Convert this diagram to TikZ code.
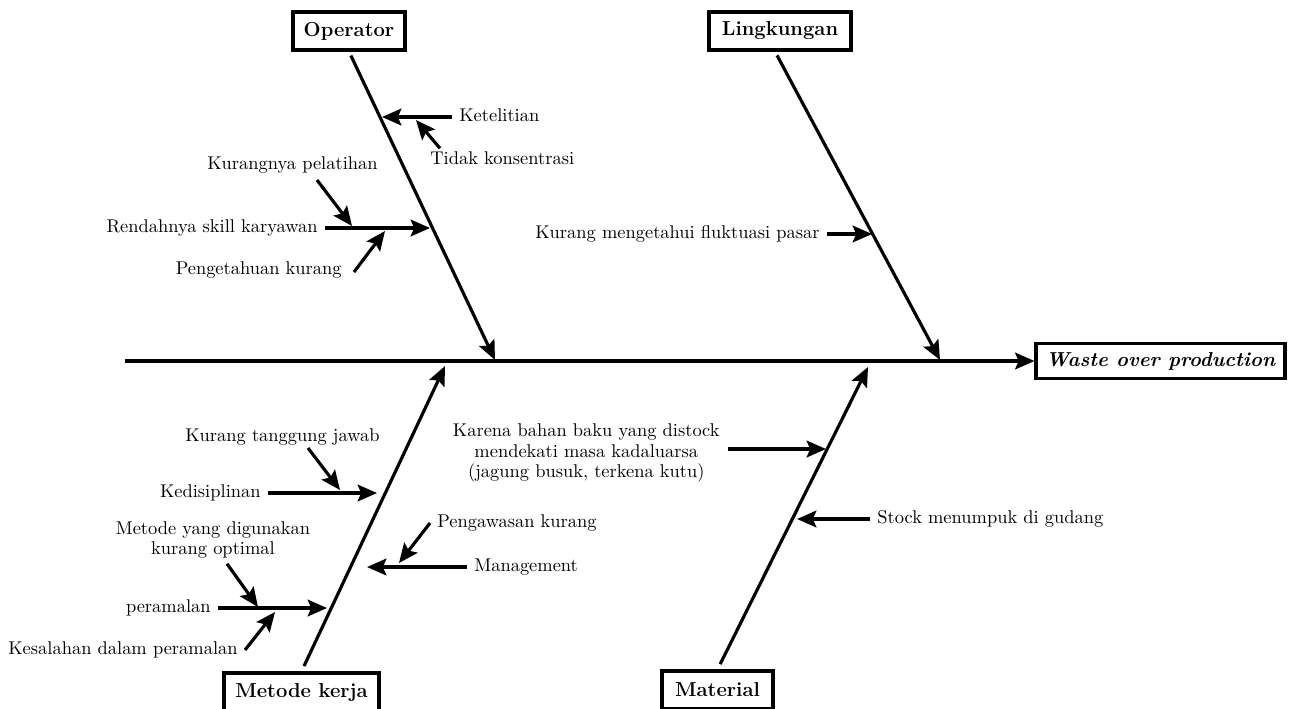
\documentclass[tikz,border=0pt]{standalone}
\usetikzlibrary{arrows.meta,calc,positioning}
\tikzset{
  cat/.style={draw,line width=1.8pt,font=\fontsize{11.5}{13}\selectfont\bfseries,inner sep=0pt,minimum height=0.76cm},
  bone/.style={line width=1.8pt,shorten <=2.5pt,-{Stealth[length=11pt,width=9.5pt,inset=2pt]}},
  sub/.style={line width=1.8pt,-{Stealth[length=11pt,width=9.5pt,inset=2pt]}},
  cause/.style={font=\fontsize{10.5}{11.5}\selectfont,inner xsep=4pt,inner ysep=0pt,text height=7.5pt,text depth=2pt},
  cause2/.style={font=\fontsize{10.5}{11.5}\selectfont,align=center,inner sep=0pt}
}
\begin{document}
\begin{tikzpicture}[x=0.02cm,y=-0.02cm]
  \useasboundingbox (0,0) rectangle (1290,708);
  % heads
  \node[cat,minimum width=2.24cm] (opbox) at (349,31) {Operator};
  \node[cat,minimum width=2.84cm] (lingbox) at (780,31) {Lingkungan};
  \node[cat,minimum width=3.1cm] (mkbox) at (301.5,692) {Metode kerja};
  \node[cat,minimum width=2.22cm] (matbox) at (717.5,690) {Material};
  \node[cat,minimum width=4.98cm,minimum height=0.7cm,font=\fontsize{11.5}{13}\selectfont\bfseries\itshape] (effect) at (1160.5,361) {Waste over production};
  % spine and bones
  \coordinate (tail) at (125,361);
  \coordinate (opend) at (495,360);
  \coordinate (lingend) at (940,360);
  \coordinate (mkend) at (445,366);
  \coordinate (matend) at (868,367);
  \draw[sub] (tail) -- (effect.west);
  \draw[bone] (opbox.south) -- (opend);
  \draw[bone] ($(lingbox.south)+(-5,0)$) -- (lingend);
  \draw[bone,shorten <=3.4pt] (mkbox.north) -- (mkend);
  \draw[bone,shorten <=3.4pt] (matbox.north) -- (matend);
  % operator
  \node[cause,anchor=west] (ketelitian) at (452,117) {Ketelitian};
  \node[cause,anchor=west] (tidak) at (423,160) {Tidak konsentrasi};
  \node[cause,anchor=east] (rendah) at (325,228) {Rendahnya skill karyawan};
  \node[cause,anchor=east] (pelatihan) at (385,165) {Kurangnya pelatihan};
  \node[cause,anchor=east] (pengetahuan) at (349,270) {Pengetahuan kurang};
  \coordinate (op1) at (382,117);
  \coordinate (op2) at (430,228);
  \coordinate (ket1) at (416,120);
  \coordinate (ren1) at (352,226);
  \coordinate (ren2) at (385,231);
  \draw[sub] (ketelitian.west) -- (op1);
  \draw[sub] ($(tidak.north west)+(17,-3)$) -- (ket1);
  \draw[sub] (rendah.east) -- (op2);
  \draw[sub] ($(pelatihan.east)+(-68,15)$) -- (ren1);
  \draw[sub] ($(pengetahuan.east)+(5,2)$) -- (ren2);
  % lingkungan
  \node[cause,anchor=east] (fluktuasi) at (827,234) {Kurang mengetahui fluktuasi pasar};
  \coordinate (ling1) at (872,234);
  \draw[sub] (fluktuasi.east) -- (ling1);
  % metode kerja
  \node[cause,anchor=east] (tanggung) at (387,437) {Kurang tanggung jawab};
  \node[cause,anchor=east] (disiplin) at (268,493) {Kedisiplinan};
  \node[cause2] (optimal) at (213,540) {Metode yang digunakan\\kurang optimal};
  \node[cause,anchor=east] (ramal) at (218,608) {peramalan};
  \node[cause,anchor=east] (kesalahan) at (245,650) {Kesalahan dalam peramalan};
  \node[cause,anchor=west] (management) at (467,567) {Management};
  \node[cause,anchor=west] (pengawasan) at (430,523) {Pengawasan kurang};
  \coordinate (mk1) at (377,493);
  \coordinate (mk2) at (327,608);
  \coordinate (mk3) at (367,567);
  \coordinate (dis1) at (340,490);
  \coordinate (ram1) at (258,607);
  \coordinate (ram2) at (275,612);
  \coordinate (man1) at (399,563);
  \draw[sub] (disiplin.east) -- (mk1);
  \draw[sub] ($(tanggung.east)+(-79,11)$) -- (dis1);
  \draw[sub] (ramal.east) -- (mk2);
  \draw[sub] ($(optimal.south)+(14,5)$) -- (ram1);
  \draw[sub] (kesalahan.east) -- (ram2);
  \draw[sub] (management.west) -- (mk3);
  \draw[sub] (pengawasan.west) -- (man1);
  % material
  \node[cause2,anchor=east] (karena) at (720,453) {Karena bahan baku yang distock\\mendekati masa kadaluarsa\\(jagung busuk, terkena kutu)};
  \node[cause,anchor=west] (stock) at (870,519) {Stock menumpuk di gudang};
  \coordinate (mat1) at (826,449);
  \coordinate (mat2) at (797,519);
  \draw[sub] ($(karena.east)+(8,-4)$) -- (mat1);
  \draw[sub] (stock.west) -- (mat2);
\end{tikzpicture}
\end{document}
